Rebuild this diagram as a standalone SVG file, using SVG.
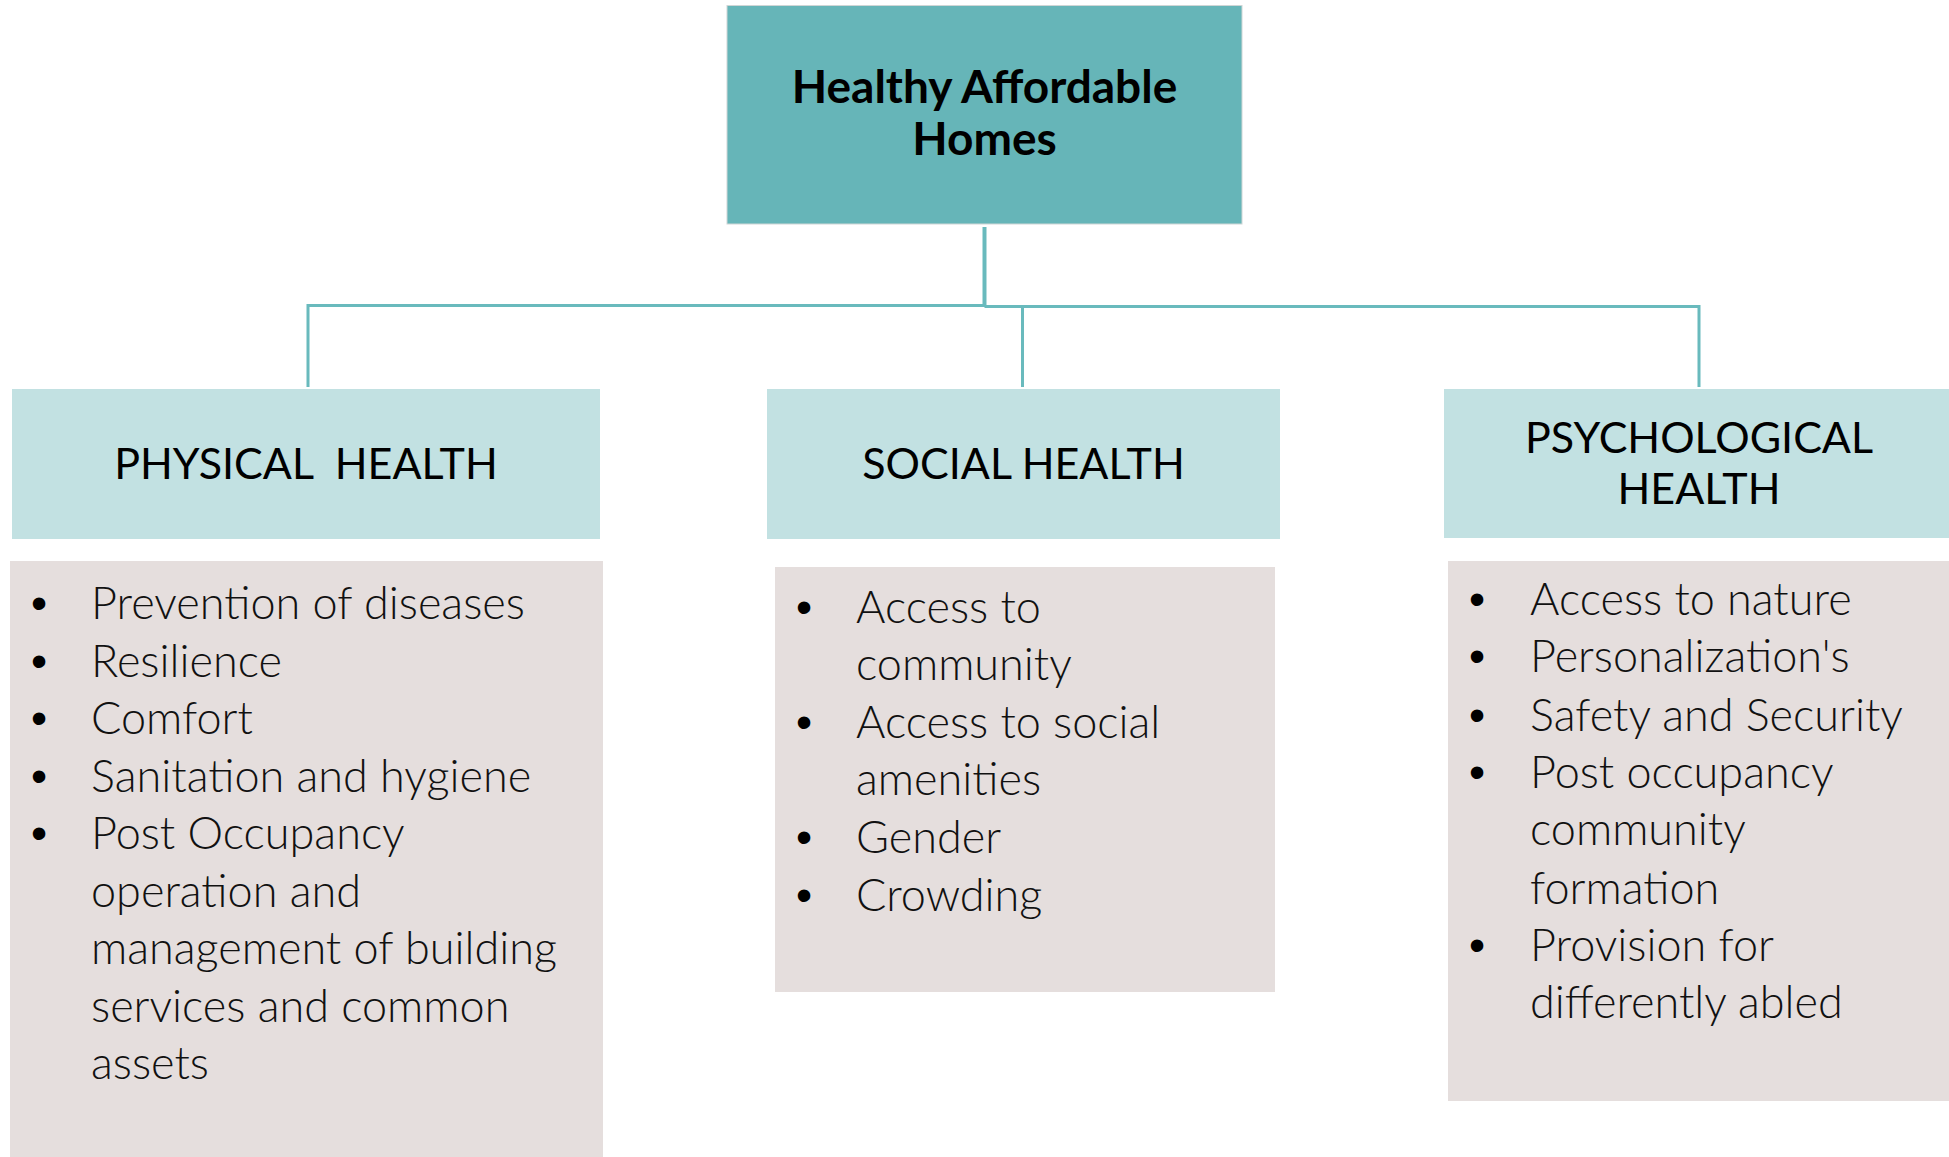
<svg xmlns="http://www.w3.org/2000/svg" width="1949" height="1157" viewBox="0 0 1949 1157">
  <style>
    .root { fill: #66b5b8; stroke: #d0d6d6; stroke-width: 1; }
    .head { fill: #c2e1e2; }
    .body { fill: #e5dedd; }
    .title { font-family: Lato, "Liberation Sans", sans-serif; font-weight: 700; font-size: 46px; fill: #000; text-anchor: middle; }
    .htext { font-family: Lato, "Liberation Sans", sans-serif; font-weight: 400; font-size: 43px; fill: #000; text-anchor: middle; white-space: pre; }
    .item { font-family: Lato, "Liberation Sans", sans-serif; font-weight: 300; font-size: 45px; fill: #111; }
    .dot { font-family: "Liberation Sans", sans-serif; font-size: 46px; fill: #000; text-anchor: middle; }
    .link { fill: none; stroke: #69babd; stroke-width: 3; }
  </style>

  <!-- tree connectors -->
  <g id="connectors">
    <line class="link" x1="984.5" y1="227" x2="984.5" y2="307" style="stroke-width:4"/>
    <polyline class="link" points="308,387 308,305.5 984.5,305.5"/>
    <polyline class="link" points="984.5,306.5 1699,306.5 1699,387"/>
    <line class="link" x1="1022.5" y1="306.5" x2="1022.5" y2="387"/>
  </g>

  <!-- root -->
  <g id="node-root">
    <rect class="root" x="727" y="5.5" width="515" height="218.5"/>
    <text class="title" x="984.5" y="103">Healthy Affordable</text>
    <text class="title" x="984.5" y="155">Homes</text>
  </g>

  <!-- category headers -->
  <g id="node-physical">
    <rect class="head" x="12" y="389" width="588" height="150"/>
    <text class="htext" x="306" y="478.5">PHYSICAL  HEALTH</text>
  </g>
  <g id="node-social">
    <rect class="head" x="767" y="389" width="513" height="150"/>
    <text class="htext" x="1023.5" y="478.5">SOCIAL HEALTH</text>
  </g>
  <g id="node-psychological">
    <rect class="head" x="1444" y="389" width="505" height="149"/>
    <text class="htext" x="1699" y="452.5">PSYCHOLOGICAL</text>
    <text class="htext" x="1699" y="503.5">HEALTH</text>
  </g>

  <!-- physical health list -->
  <g id="list-physical">
    <rect class="body" x="10" y="561" width="593" height="596"/>
    <text class="dot" x="39" y="619">•</text>
    <text class="dot" x="39" y="676.5">•</text>
    <text class="dot" x="39" y="734">•</text>
    <text class="dot" x="39" y="791.5">•</text>
    <text class="dot" x="39" y="849">•</text>
    <text class="item" x="91" y="619">Prevention of diseases</text>
    <text class="item" x="91" y="676.5">Resilience</text>
    <text class="item" x="91" y="734">Comfort</text>
    <text class="item" x="91" y="791.5">Sanitation and hygiene</text>
    <text class="item" x="91" y="849">Post Occupancy</text>
    <text class="item" x="91" y="906.5">operation and</text>
    <text class="item" x="91" y="964">management of building</text>
    <text class="item" x="91" y="1021.5">services and common</text>
    <text class="item" x="91" y="1079">assets</text>
  </g>

  <!-- social health list -->
  <g id="list-social">
    <rect class="body" x="775" y="567" width="500" height="425"/>
    <text class="dot" x="804" y="623">•</text>
    <text class="dot" x="804" y="738">•</text>
    <text class="dot" x="804" y="853">•</text>
    <text class="dot" x="804" y="911">•</text>
    <text class="item" x="856" y="623">Access to</text>
    <text class="item" x="856" y="680">community</text>
    <text class="item" x="856" y="738">Access to social</text>
    <text class="item" x="856" y="795">amenities</text>
    <text class="item" x="856" y="853">Gender</text>
    <text class="item" x="856" y="911">Crowding</text>
  </g>

  <!-- psychological health list -->
  <g id="list-psychological">
    <rect class="body" x="1448" y="561" width="501" height="540"/>
    <text class="dot" x="1477" y="615">•</text>
    <text class="dot" x="1477" y="672">•</text>
    <text class="dot" x="1477" y="731">•</text>
    <text class="dot" x="1477" y="788">•</text>
    <text class="dot" x="1477" y="961">•</text>
    <text class="item" x="1530" y="615">Access to nature</text>
    <text class="item" x="1530" y="672">Personalization's</text>
    <text class="item" x="1530" y="731">Safety and Security</text>
    <text class="item" x="1530" y="788">Post occupancy</text>
    <text class="item" x="1530" y="845">community</text>
    <text class="item" x="1530" y="904">formation</text>
    <text class="item" x="1530" y="961">Provision for</text>
    <text class="item" x="1530" y="1018">differently abled</text>
  </g>
</svg>
